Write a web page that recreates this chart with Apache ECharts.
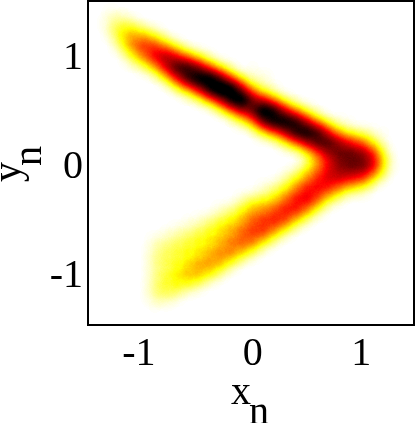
<!DOCTYPE html>
<html><head><meta charset="utf-8">
<style>html,body{margin:0;padding:0;background:#fff}#c{width:415px;height:423px}</style>
<script src="https://cdn.jsdelivr.net/npm/echarts@6/dist/echarts.min.js"></script>
</head><body><div id="c"></div>
<script>
const xTicks = [-1, 0, 1];
const yTicks = [-1, 0, 1];
const xGrid = [-1.3,-1.2,-1.1,-1,-0.9,-0.8,-0.7,-0.6,-0.5,-0.4,-0.3,-0.2,-0.1,0,0.1,0.2,0.3,0.4,0.5,0.6,0.7,0.8,0.9,1,1.1,1.2];
const yGrid = [1.42,1.32,1.22,1.12,1.02,0.92,0.82,0.72,0.62,0.52,0.42,0.32,0.22,0.12,0.02,-0.08,-0.18,-0.28,-0.38,-0.48,-0.58,-0.68,-0.78,-0.88,-0.98,-1.08,-1.18,-1.28];
// per x column: first yGrid row, then density values going down
const upperStart = [0,0,0,1,1,2,2,3,3,4,4,5,5,5,5,7,7,8,8,9,9,9,10,10,11,11];
const upperDensity = [
 [3,8,4,1],[2,12,20,9,1],[1,5,24,28,12,2],[2,16,38,24,5,1],[1,7,34,44,14,2],[2,16,56,40,7,1],
 [1,5,36,72,30,4],[2,16,70,66,13,2],[1,7,50,86,30,4],[3,18,88,72,10,1],[1,8,55,97,32,4],[3,19,90,72,11,2],
 [1,6,40,100,40,6,1],[2,5,10,48,50,13,2],[1,4,8,32,100,52,8,1],[3,12,70,78,16,2],[1,5,34,85,38,6],[2,15,72,72,15,2],
 [1,6,34,85,34,5],[2,15,68,62,18],[1,4,32,70,40],[1,3,14,50,55],[2,6,38,58],[1,5,30,52],[3,12,42],[2,3,8]
];
const lowerStart = [0,0,0,0,21,20,19,19,18,18,17,17,16,16,15,16,15,15,14,14,14,14,14,14,14,14];
const lowerDensity = [
 [],[],[],[],[4,7,7,7,8,8,2],[2,7,10,11,10,14,10,1],
 [1,4,9,12,11,14,16,4],[2,6,12,12,14,22,12,1],[1,3,9,14,14,20,24,5],[1,5,14,14,17,26,14,1],[1,3,10,17,17,25,24,4],[1,5,15,20,22,30,8,1],
 [1,3,11,19,24,32,18,2],[1,5,24,26,33,30,6],[1,3,9,22,28,40,12,1],[5,15,24,42,22,3],[3,12,22,38,35,7,1],[10,20,35,42,15,2],
 [8,18,35,48,25,4],[22,32,40,30,8,1],[35,42,38,12,1],[48,48,25,4],[52,42,12,1],[56,42,10,1],[50,18,2],[14,4]
];
const xRange = [-1.515, 1.485];
const yRange = [-1.45, 1.53];
const hotColors = ['#ffffff','#ffff80','#ffff00','#ffaa00','#ff5500','#ff0000','#aa0000','#550000','#000000','#000000','#000000','#000000','#000000'];

const points = [];
function addCells(starts, cols){
  cols.forEach((col,i)=>col.forEach((v,k)=>{ if(v>0) points.push([xGrid[i], yGrid[starts[i]+k], v]); }));
}
addCells(upperStart, upperDensity);
addCells(lowerStart, lowerDensity);

echarts.registerMap('plotArea',{type:'FeatureCollection',features:[{type:'Feature',properties:{name:'plot'},geometry:{type:'Polygon',coordinates:[[[xRange[0],yRange[0]],[xRange[1],yRange[0]],[xRange[1],yRange[1]],[xRange[0],yRange[1]],[xRange[0],yRange[0]]]]}}]});
const font = 'Liberation Serif';
const chart = echarts.init(document.getElementById('c'),null,{renderer:'canvas'});
const axisCommon = {type:'value',axisLine:{show:false},axisTick:{show:false},splitLine:{show:false}};
chart.setOption({
  animation:false,
  backgroundColor:'#fff',
  grid:{show:true,left:88,top:1,width:326,height:324,borderColor:'#000',borderWidth:2,backgroundColor:'transparent',z:5},
  xAxis:Object.assign({},axisCommon,{min:xRange[0],max:xRange[1],axisLabel:{customValues:xTicks,margin:9,fontFamily:font,fontSize:40,color:'#000',formatter:v=>v<0?v+' ':''+v}}),
  yAxis:Object.assign({},axisCommon,{min:yRange[0],max:yRange[1],axisLabel:{customValues:yTicks,margin:5,fontFamily:font,fontSize:40,color:'#000'}}),
  geo:{map:'plotArea',left:88,top:1,width:326,height:324,aspectScale:1,silent:true,roam:false,z:1,
    itemStyle:{areaColor:'transparent',borderWidth:0},emphasis:{disabled:true},label:{show:false}},
  visualMap:{show:false,min:0,max:100,seriesIndex:0,inRange:{color:hotColors}},
  series:[{type:'heatmap',coordinateSystem:'geo',geoIndex:0,data:points,pointSize:8,blurSize:15,minOpacity:1,maxOpacity:1}],
  graphic:[
    {type:'text',x:241,y:393,style:{text:'x',font:'40px "Liberation Serif"',fill:'#000',textAlign:'center',textVerticalAlign:'middle'}},
    {type:'text',x:259,y:413,style:{text:'n',font:'40px "Liberation Serif"',fill:'#000',textAlign:'center',textVerticalAlign:'middle'}},
    {type:'text',x:9,y:172,rotation:Math.PI/2,style:{text:'y',font:'40px "Liberation Serif"',fill:'#000',textAlign:'center',textVerticalAlign:'middle'}},
    {type:'text',x:30,y:156,rotation:Math.PI/2,style:{text:'n',font:'40px "Liberation Serif"',fill:'#000',textAlign:'center',textVerticalAlign:'middle'}}
  ]
});
</script></body></html>
